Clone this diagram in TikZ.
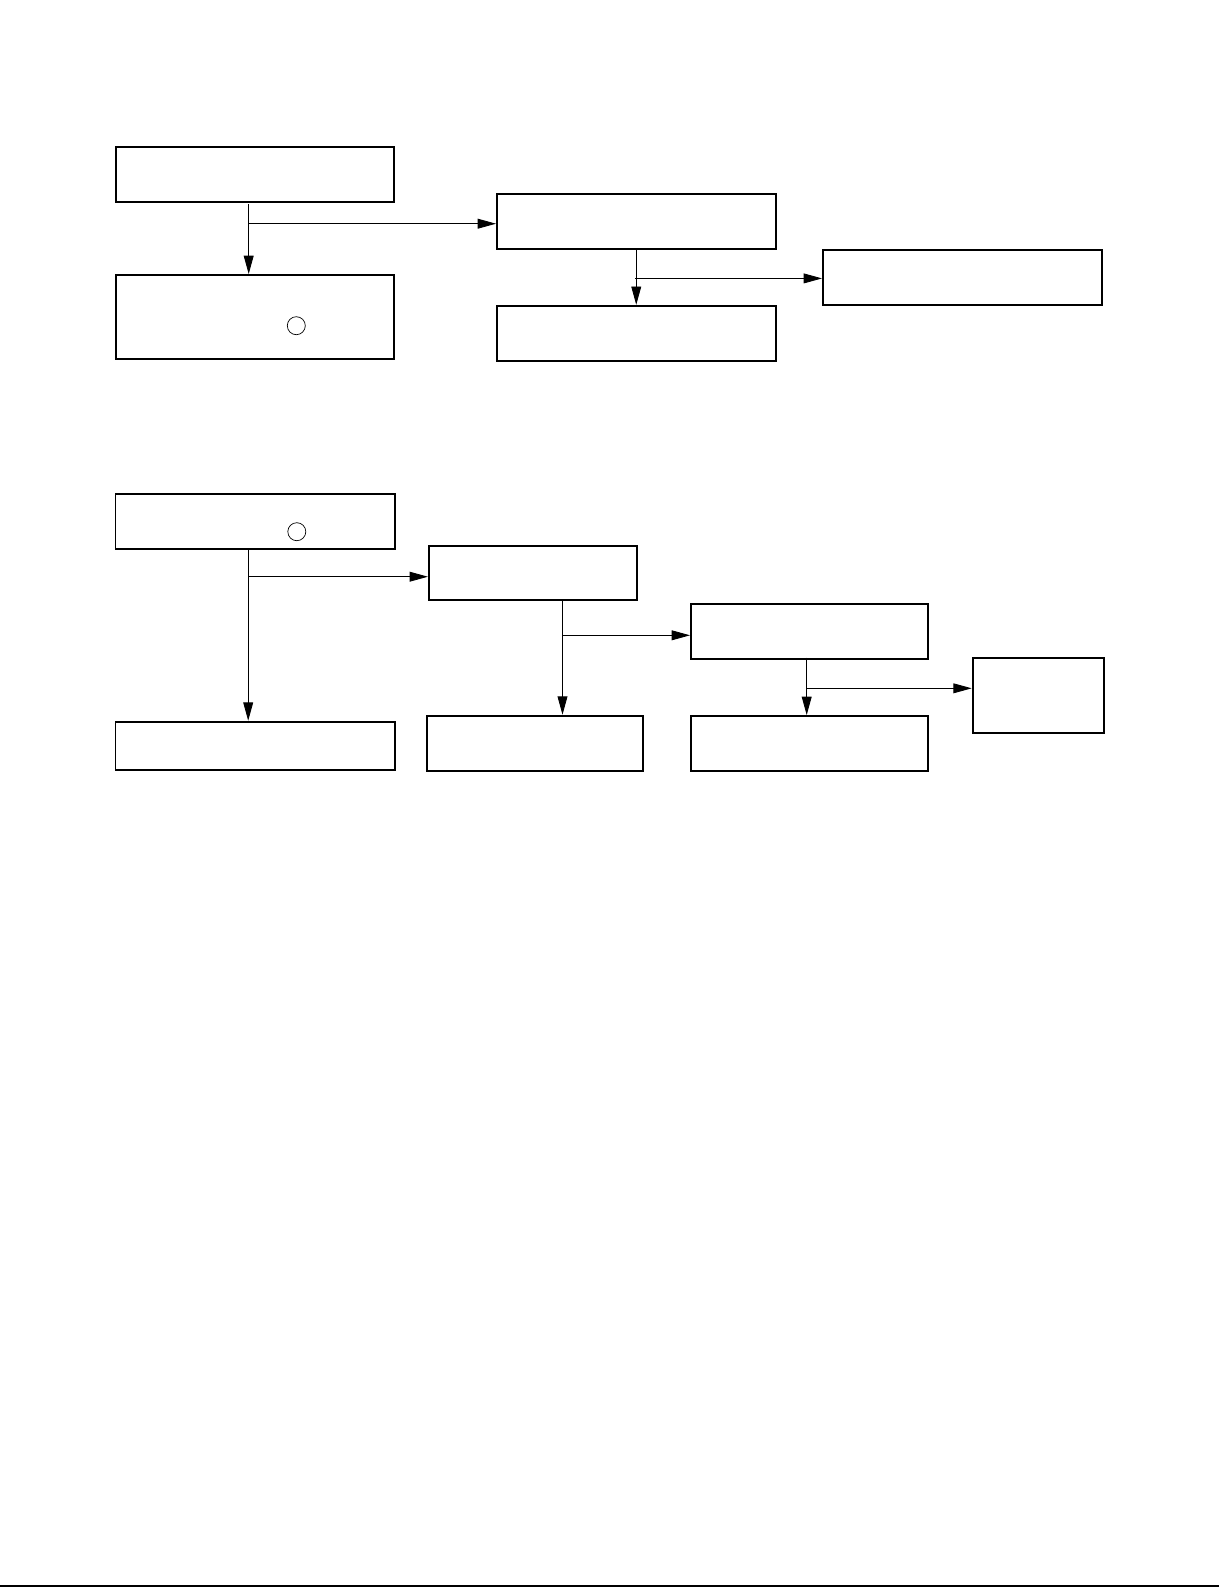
\documentclass[tikz,border=0pt]{standalone}
\usepackage{tikz}
\usetikzlibrary{arrows.meta}

\begin{document}
\begin{tikzpicture}[x=0.025cm,y=-0.025cm,
    blk/.style={draw,line width=1.3pt,inner sep=0pt,anchor=north west,minimum width=6.965cm,minimum height=1.375cm},
    arr/.style={-{Triangle[length=13pt,width=7pt]},line width=0.6pt},
    ring/.style={draw,circle,line width=0.5pt,inner sep=0pt,minimum size=0.45cm}]
  \useasboundingbox (0,0) rectangle (1219,1587);
  % first chart
  \node[blk] (a) at (114.7,145.7) {};
  \node[blk,minimum height=2.108cm] (b) at (114.7,274) {};
  \node[blk] (c) at (496,193.4) {};
  \node[blk] (d) at (496,304.8) {};
  \node[blk] (e) at (822,249) {};
  \node[ring] (m1) at (296.3,325.7) {};
  \coordinate (a1) at (248.7,204);
  \coordinate (a2) at (248.7,223.7);
  \coordinate (c2) at (635.3,278.4);
  \draw[arr] (a1) -- (a1 |- b.north);
  \draw[arr] (a2) -- (a2 -| c.west);
  \draw[arr] (c.south) -- (d.north);
  \draw[arr] (c2) -- (c2 -| e.west);
  % second chart
  \node[blk,minimum width=6.975cm] (f) at (114.6,493) {};
  \node[blk,minimum width=5.21cm,minimum height=1.36cm] (g) at (427.9,544.7) {};
  \node[blk,minimum width=6.975cm,minimum height=1.21cm] (h) at (114.6,720.7) {};
  \node[blk,minimum width=5.4cm] (i) at (426,714.7) {};
  \node[blk,minimum width=5.93cm] (j) at (690,602.7) {};
  \node[blk,minimum width=5.93cm] (k) at (690,715) {};
  \node[blk,minimum width=3.29cm,minimum height=1.88cm] (l) at (971.7,656.7) {};
  \node[ring] (m2) at (296.8,531.7) {};
  \coordinate (f1) at (248.2,548.3);
  \coordinate (f2) at (248.2,576.7);
  \coordinate (g1) at (562.5,599);
  \coordinate (g2) at (562.5,635.3);
  \coordinate (j1) at (806.7,657.7);
  \coordinate (j2) at (806.7,688.3);
  \draw[arr] (f1) -- (f1 |- h.north);
  \draw[arr] (f2) -- (f2 -| g.west);
  \draw[arr] (g1) -- (g1 |- i.north);
  \draw[arr] (g2) -- (g2 -| j.west);
  \draw[arr] (j1) -- (j1 |- k.north);
  \draw[arr] (j2) -- (j2 -| l.west);
  % page edge
  \draw[line width=1.2pt] (0,1586.3) -- (1219,1586.3);
\end{tikzpicture}
\end{document}
